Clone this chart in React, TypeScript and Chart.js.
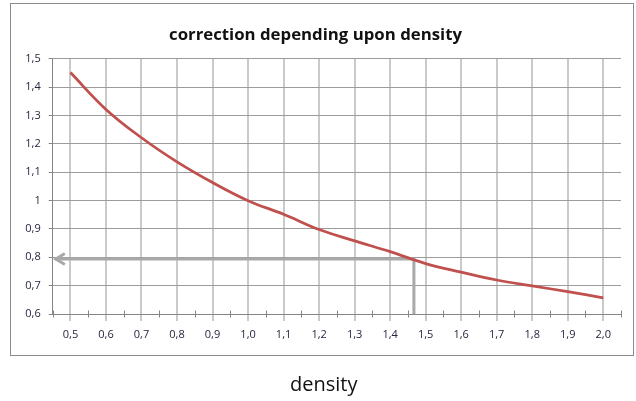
import React, { useEffect, useRef } from 'react';
import { Chart, registerables } from 'chart.js';

Chart.register(...registerables);

// ---- data ----
const densities = [0.5, 0.6, 0.7, 0.8, 0.9, 1.0, 1.1, 1.2, 1.3, 1.4, 1.5, 1.6, 1.7, 1.8, 1.9, 2.0];
const corrections = [1.452, 1.322, 1.222, 1.137, 1.064, 1.0, 0.952, 0.898, 0.858, 0.82, 0.778, 0.748, 0.72, 0.699, 0.679, 0.657];
const xTickLabels = ['0,5', '0,6', '0,7', '0,8', '0,9', '1,0', '1,1', '1,2', '1,3', '1,4', '1,5', '1,6', '1,7', '1,8', '1,9', '2,0'];
const yTickValues = [0.6, 0.7, 0.8, 0.9, 1.0, 1.1, 1.2, 1.3, 1.4, 1.5];
const yTickLabels = ['0,6', '0,7', '0,8', '0,9', '1', '1,1', '1,2', '1,3', '1,4', '1,5'];
// reading arrow: up from the density, then left to the correction axis
const readDensity = [1.467, 1.467, 0.456];
const readCorrection = [0.6, 0.794, 0.794];

const xMin = 0.45;
const xMax = 2.05;
const xBoundaries = [densities[0] - 0.05, ...densities.map((d) => d + 0.05)];

const TITLE = 'correction depending upon density';
const X_TITLE = 'density';
const FONT = '"Open Sans", "DejaVu Sans", sans-serif';
const LABEL_COLOR = '#262640';

const decorPlugin = {
  id: 'decor',
  beforeDraw(chart: any) {
    const ctx = chart.ctx;
    ctx.save();
    ctx.strokeStyle = '#8a8a8a';
    ctx.lineWidth = 1;
    ctx.strokeRect(10.5, 3.5, 623, 352);
    ctx.restore();
  },
  afterDraw(chart: any) {
    const ctx = chart.ctx;
    const xs = chart.scales.x;
    const y0 = chart.chartArea.bottom;
    ctx.save();
    // cross tick marks between categories
    ctx.strokeStyle = '#868686';
    ctx.lineWidth = 1;
    ctx.beginPath();
    xBoundaries.forEach((v) => {
      const px = Math.round(xs.getPixelForValue(v)) + 0.5;
      ctx.moveTo(px, Math.round(y0) - 3.5);
      ctx.lineTo(px, Math.round(y0) + 3.5);
    });
    ctx.stroke();
    // arrowhead at end of the reading line
    const meta = chart.getDatasetMeta(1);
    const last = meta.data[meta.data.length - 1];
    if (last) {
      ctx.strokeStyle = '#a9a9a9';
      ctx.lineWidth = 3;
      ctx.lineJoin = 'miter';
      ctx.beginPath();
      ctx.moveTo(last.x + 10, last.y - 5.5);
      ctx.lineTo(last.x + 1, last.y);
      ctx.lineTo(last.x + 10, last.y + 5.5);
      ctx.stroke();
    }
    ctx.restore();
  },
};

export default function App() {
  const canvasRef = useRef<HTMLCanvasElement | null>(null);

  useEffect(() => {
    if (!canvasRef.current) return;
    const chart = new Chart(canvasRef.current, {
      type: 'line',
      data: {
        datasets: [
          {
            label: 'correction',
            data: densities.map((d, i) => ({ x: d, y: corrections[i] })),
            borderColor: '#c0504d',
            borderWidth: 2.75,
            pointRadius: 0,
            tension: 0.4,
            fill: false,
          },
          {
            label: 'reading',
            data: readDensity.map((d, i) => ({ x: d, y: readCorrection[i] })),
            borderColor: '#a9a9a9',
            borderWidth: 3,
            pointRadius: 0,
            tension: 0,
            borderJoinStyle: 'miter',
            fill: false,
          },
        ],
      },
      options: {
        animation: false,
        responsive: false,
        devicePixelRatio: 1,
        layout: { padding: { left: 10, right: 15, top: 25, bottom: 0 } },
        plugins: {
          legend: { display: false },
          tooltip: { enabled: false },
          title: {
            display: true,
            text: TITLE,
            color: '#111111',
            font: { family: FONT, size: 16.8, weight: 'bold' },
            padding: { top: 0, bottom: 13.8 },
          },
        },
        scales: {
          x: {
            type: 'linear',
            min: xMin,
            max: xMax,
            afterBuildTicks: (s: any) => {
              s.ticks = densities.map((v) => ({ value: v }));
            },
            afterFit: (s: any) => {
              s.height = 87;
            },
            grid: { color: '#cacaca', lineWidth: 2, tickLength: 7, tickColor: '#cacaca' },
            border: { color: '#868686', width: 1 },
            ticks: {
              autoSkip: false,
              maxRotation: 0,
              padding: 7,
              color: LABEL_COLOR,
              font: { family: FONT, size: 11 },
              callback: (_v: any, i: number) => xTickLabels[i],
            },
          },
          y: {
            type: 'linear',
            min: 0.6,
            max: 1.5,
            afterBuildTicks: (s: any) => {
              s.ticks = yTickValues.map((v) => ({ value: v }));
            },
            afterFit: (s: any) => {
              s.width = 42.7;
            },
            grid: { color: '#9c9c9c', lineWidth: 1, tickLength: 4, tickColor: '#868686' },
            border: { color: '#868686', width: 1 },
            ticks: {
              autoSkip: false,
              padding: 8,
              color: LABEL_COLOR,
              font: { family: FONT, size: 11 },
              callback: (_v: any, i: number) => yTickLabels[i],
            },
          },
        },
      } as any,
      plugins: [decorPlugin],
    });
    return () => chart.destroy();
  }, []);

  return (
    <div style={{ position: 'absolute', left: 0, top: 0, width: 636, height: 401, background: '#ffffff' }}>
      <canvas ref={canvasRef} width={636} height={401} style={{ display: 'block' }} />
      <div
        style={{
          position: 'absolute',
          left: 290,
          top: 370,
          fontFamily: FONT,
          fontSize: 20,
          lineHeight: '27px',
          color: '#111111',
          whiteSpace: 'nowrap',
        }}
      >
        {X_TITLE}
      </div>
    </div>
  );
}
